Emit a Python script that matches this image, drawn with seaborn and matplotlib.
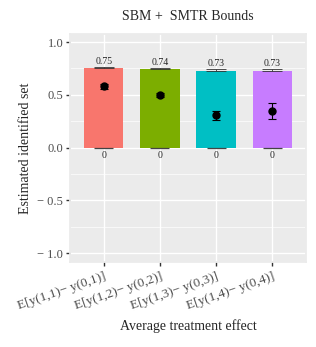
import matplotlib
matplotlib.use("Agg")
import matplotlib.pyplot as plt
import seaborn as sns
import pandas as pd
from matplotlib.ticker import MultipleLocator

effects = ["E[y(1,1)− y(0,1)]", "E[y(1,2)− y(0,2)]",
           "E[y(1,3)− y(0,3)]", "E[y(1,4)− y(0,4)]"]
upper = [0.75, 0.74, 0.73, 0.73]
upper_ci = [0.76, 0.75, 0.74, 0.74]
lower = [0.0, 0.0, 0.0, 0.0]
point = [0.58, 0.50, 0.31, 0.35]
point_lo = [0.555, 0.475, 0.265, 0.27]
point_hi = [0.60, 0.515, 0.345, 0.42]
colors = ["#F8766D", "#7CAE00", "#00BFC4", "#C77CFF"]

df = pd.DataFrame({"effect": effects, "upper": upper, "lower": lower, "point": point})

sns.set_theme(style="darkgrid", rc={
    "axes.facecolor": "#EBEBEB",
    "grid.color": "white",
    "axes.edgecolor": "#EBEBEB",
    "xtick.bottom": True,
    "ytick.left": True,
})
plt.rcParams["font.family"] = ["Liberation Serif", "DejaVu Serif"]

fig, ax = plt.subplots(figsize=(3.16, 3.47), dpi=100)
fig.subplots_adjust(left=0.222, right=0.968, top=0.902, bottom=0.245)

sns.barplot(data=df, x="effect", y="upper", hue="effect", palette=colors,
            width=0.7, saturation=1, legend=False, ax=ax, zorder=2, linewidth=0)

xs = list(range(len(effects)))
ax.errorbar(xs, upper, yerr=[[0] * len(xs), [c - u for u, c in zip(upper, upper_ci)]],
            fmt="none", ecolor="#333333", elinewidth=0.6, capsize=7, capthick=0.6, zorder=3)
ax.hlines(lower, [x - 0.17 for x in xs], [x + 0.17 for x in xs],
          color="#444444", linewidth=0.9, zorder=3)
ax.errorbar(xs, point, yerr=[[p - l for p, l in zip(point, point_lo)],
                             [h - p for p, h in zip(point, point_hi)]],
            fmt="o", color="black", markersize=5, elinewidth=0.8,
            capsize=3, capthick=0.8, zorder=4)

for x, u in zip(xs, upper_ci):
    ax.text(x, u + 0.012, f"{upper[x]:.2f}", ha="center", va="bottom", fontsize=7)
for x, l in zip(xs, lower):
    ax.text(x, l - 0.03, "0", ha="center", va="top", fontsize=7)

ax.set_ylim(-1.085, 1.076)
ax.set_xlim(-0.6, 3.6)
ax.yaxis.set_minor_locator(MultipleLocator(0.25))
ax.grid(which="major", color="white", linewidth=1.0)
ax.grid(which="minor", axis="y", color="white", linewidth=0.5)
ax.set_yticks([-1.0, -0.5, 0.0, 0.5, 1.0])
ax.set_yticklabels(["− 1.0", "− 0.5", "0.0", "0.5", "1.0"])
ax.tick_params(axis="both", which="major", length=3, width=1.0, color="#333333",
               labelsize=9, labelcolor="#4D4D4D", pad=2)
ax.tick_params(axis="x", labelsize=9.5, pad=3)
ax.tick_params(which="minor", length=0)
plt.setp(ax.get_xticklabels(), rotation=19, ha="right", rotation_mode="anchor")

ax.set_title("SBM +  SMTR Bounds", fontsize=10, pad=10)
ax.set_xlabel("Average treatment effect", fontsize=10, labelpad=5)
ax.set_ylabel("Estimated identified set", fontsize=10)

fig.savefig("out.png", dpi=100)
